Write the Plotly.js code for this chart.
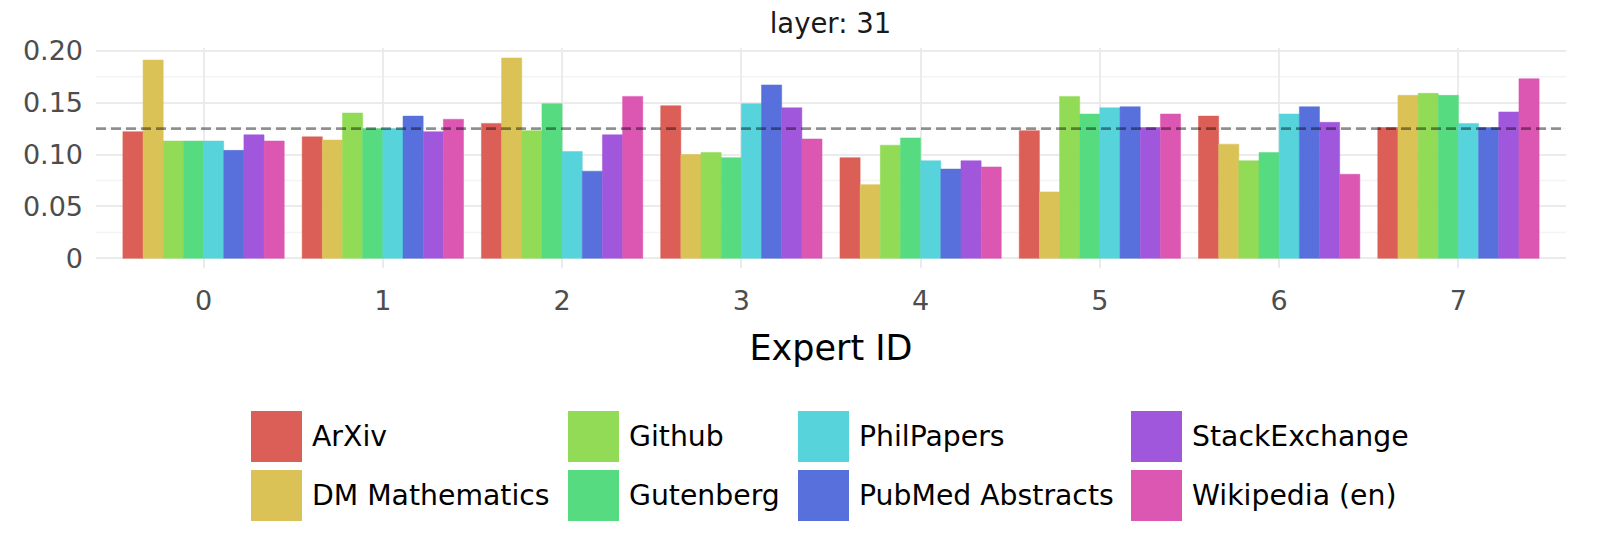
<!DOCTYPE html>
<html>
<head>
<meta charset="utf-8">
<script src="https://cdn.plot.ly/plotly-3.0.1.min.js"></script>
<style>
  html, body { margin: 0; padding: 0; background: #fff; }
  #chart { width: 1600px; height: 547px; }
</style>
</head>
<body>
<div id="chart"></div>
<script>
// expert ids on the x axis
var experts = [0, 1, 2, 3, 4, 5, 6, 7];

// one series per dataset
var arxiv        = [0.122, 0.117, 0.130, 0.147, 0.097, 0.123, 0.137, 0.126];
var dmMath       = [0.191, 0.114, 0.193, 0.100, 0.071, 0.064, 0.110, 0.157];
var github       = [0.113, 0.140, 0.123, 0.102, 0.109, 0.156, 0.094, 0.159];
var gutenberg    = [0.113, 0.125, 0.149, 0.097, 0.116, 0.139, 0.102, 0.157];
var philPapers   = [0.113, 0.125, 0.103, 0.149, 0.094, 0.145, 0.139, 0.130];
var pubmed       = [0.104, 0.137, 0.084, 0.167, 0.086, 0.146, 0.146, 0.126];
var stackExchange= [0.119, 0.122, 0.119, 0.145, 0.094, 0.126, 0.131, 0.141];
var wikipedia    = [0.113, 0.134, 0.156, 0.115, 0.088, 0.139, 0.081, 0.173];

var seriesNames = ['ArXiv', 'DM Mathematics', 'Github', 'Gutenberg',
                   'PhilPapers', 'PubMed Abstracts', 'StackExchange', 'Wikipedia (en)'];
var seriesValues = [arxiv, dmMath, github, gutenberg, philPapers, pubmed, stackExchange, wikipedia];
var colors = ['#db5f57', '#dbc257', '#91db57', '#57db80',
              '#57d3db', '#5770db', '#a157db', '#db57b2'];

var uniform = 0.125;  // 1 / number of experts
var yTicks = [0, 0.05, 0.10, 0.15, 0.20];
var yTickText = ['0', '0.05', '0.10', '0.15', '0.20'];

var FONT = 'DejaVu Sans, sans-serif';

var data = [];
for (var i = 0; i < seriesNames.length; i++) {
  data.push({
    type: 'bar',
    x: experts,
    y: seriesValues[i],
    name: seriesNames[i],
    marker: { color: colors[i], line: { color: colors[i], width: 0.5 } },
    hoverinfo: 'name+y'
  });
}

// minor grid lines halfway between the labelled ones
var shapes = [];
for (var t = 0; t < yTicks.length - 1; t++) {
  var mid = (yTicks[t] + yTicks[t + 1]) / 2;
  shapes.push({ type: 'line', xref: 'paper', x0: 0, x1: 1, yref: 'y', y0: mid, y1: mid,
                layer: 'below', line: { color: '#f4f4f4', width: 1.5 } });
}
shapes.push({ type: 'line', xref: 'paper', x0: 0, x1: 1, yref: 'y', y0: uniform, y1: uniform,
              layer: 'above', line: { color: 'rgba(0,0,0,0.42)', width: 2.7, dash: '10px,5px' } });

// big-swatch legend below the plot, 4 columns x 2 rows
var annotations = [];
var colLeft = [251, 568, 798, 1131];
var rowTop = [411, 470];
var sw = 51;
for (var k = 0; k < seriesNames.length; k++) {
  var c = Math.floor(k / 2), r = k % 2;
  shapes.push({ type: 'rect', xref: 'paper', yref: 'paper',
                x0: (colLeft[c] - 96) / 1470, x1: (colLeft[c] + sw - 96) / 1470,
                y0: (268 - rowTop[r]) / 220, y1: (268 - rowTop[r] - sw) / 220,
                fillcolor: colors[k], line: { width: 0 } });
  annotations.push({ xref: 'paper', yref: 'paper',
                     x: (colLeft[c] + sw + 8 - 96) / 1470, y: (268 - rowTop[r] - sw / 2) / 220,
                     xanchor: 'left', yanchor: 'middle', showarrow: false,
                     text: seriesNames[k], font: { family: FONT, size: 28.3, color: '#000' } });
}

var layout = {
  width: 1600,
  height: 547,
  margin: { l: 96, r: 34, t: 48, b: 279 },
  paper_bgcolor: '#fff',
  plot_bgcolor: '#fff',
  font: { family: FONT, color: '#4d4d4d' },
  title: { text: 'layer: 31', x: 0.519, xanchor: 'center', y: 0.958, yanchor: 'middle',
           font: { family: FONT, size: 27.5, color: '#1a1a1a' } },
  barmode: 'group',
  bargap: 0.1,
  bargroupgap: 0,
  showlegend: false,
  xaxis: {
    range: [-0.6, 7.6],
    tickvals: experts,
    ticks: '',
    showline: false,
    zeroline: false,
    showgrid: true,
    gridcolor: '#ebebeb',
    gridwidth: 2,
    tickfont: { family: FONT, size: 27, color: '#4d4d4d' },
    ticklabelstandoff: 14,
    title: { text: 'Expert ID', standoff: 20, font: { family: FONT, size: 35, color: '#000' } }
  },
  yaxis: {
    range: [-0.0093, 0.2026],
    tickvals: yTicks,
    ticktext: yTickText,
    ticks: '',
    showline: false,
    zeroline: false,
    showgrid: true,
    gridcolor: '#ebebeb',
    gridwidth: 2,
    tickfont: { family: FONT, size: 27, color: '#4d4d4d' },
    ticklabelstandoff: 12
  },
  shapes: shapes,
  annotations: annotations
};

Plotly.newPlot('chart', data, layout, { displayModeBar: false, staticPlot: true });
</script>
</body>
</html>
